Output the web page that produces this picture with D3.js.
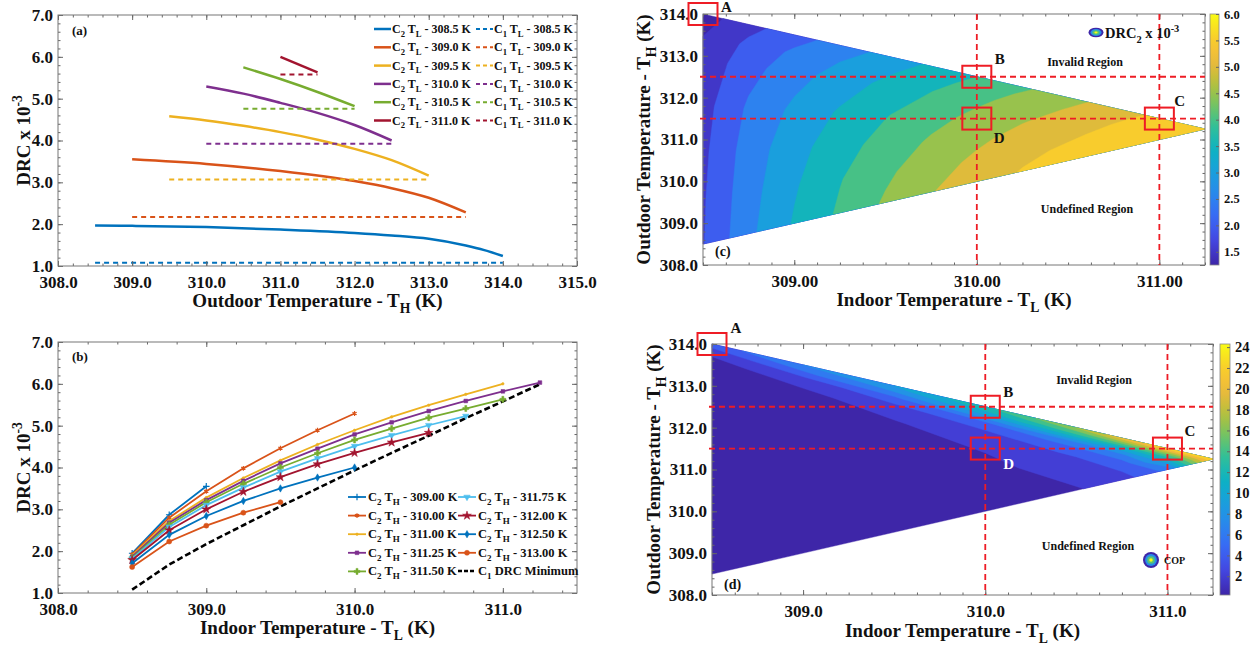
<!DOCTYPE html>
<html lang="en">
<head>
<meta charset="UTF-8" />
<title>DRC and COP maps</title>
<script src="https://d3js.org/d3.v7.min.js"></script>
<style>
  body { margin: 0px; overflow: hidden; background: #ffffff; }
  text { font-family: "Liberation Serif", "Times New Roman", serif; font-weight: bold; fill: #111; }
</style>
</head>
<body>
<svg width="1258" height="645"></svg>
<script>
// ---- (a) DRC2 (x10^-3) vs outdoor temperature TH, one curve per indoor TL
var tlLevels = [308.5, 309.0, 309.5, 310.0, 310.5, 311.0];
var c2VsTH = [
  [[308.5, 1.97], [309, 1.96], [310, 1.93], [311, 1.87], [312, 1.79], [312.5, 1.73], [313, 1.65], [313.5, 1.49], [313.75, 1.38], [314, 1.24]],
  [[309, 3.55], [310, 3.44], [311, 3.27], [312, 3.03], [312.5, 2.86], [313, 2.63], [313.5, 2.28]],
  [[309.5, 4.58], [310, 4.48], [310.5, 4.35], [311, 4.2], [311.5, 4.02], [312, 3.8], [312.5, 3.53], [313, 3.16]],
  [[310, 5.29], [310.5, 5.12], [311, 4.9], [311.5, 4.66], [312, 4.37], [312.5, 4.0]],
  [[310.5, 5.75], [311, 5.47], [311.5, 5.16], [312, 4.82]],
  [[311, 6.0], [311.5, 5.63]]
];
var c1VsTL = [1.08, 2.17, 3.07, 3.92, 4.76, 5.58];

// ---- (b) DRC2 vs indoor temperature TL, one curve per outdoor TH
var thLevels = [309.00, 310.00, 311.00, 311.25, 311.50, 311.75, 312.00, 312.50, 313.00];
var tlSteps = [308.5, 308.75, 309.0, 309.25, 309.5, 309.75, 310.0, 310.25, 310.5, 310.75, 311.0, 311.25];
var c2VsTL = [
  [1.95, 2.87, 3.55],
  [1.92, 2.80, 3.43, 3.98, 4.46, 4.89, 5.29],
  [1.90, 2.72, 3.28, 3.75, 4.17, 4.55, 4.89, 5.21, 5.49, 5.75, 6.00],
  [1.87, 2.68, 3.22, 3.68, 4.10, 4.45, 4.79, 5.08, 5.35, 5.59, 5.82, 6.03],
  [1.84, 2.63, 3.17, 3.61, 4.00, 4.34, 4.66, 4.93, 5.19, 5.41, 5.63],
  [1.82, 2.58, 3.10, 3.52, 3.90, 4.22, 4.51, 4.77, 5.01, 5.23],
  [1.79, 2.50, 3.00, 3.42, 3.77, 4.08, 4.35, 4.60, 4.83],
  [1.71, 2.39, 2.84, 3.20, 3.50, 3.76, 4.00],
  [1.62, 2.23, 2.61, 2.92, 3.17]
];
var c1Minimum = [1.08, 1.68, 2.17, 2.62, 3.07, 3.50, 3.93, 4.35, 4.76, 5.18, 5.58, 5.99];

// ---- valid operating region (TL, TH)
var upperEdge = [[308.5, 314.0], [311.25, 311.25]];
var lowerEdge = [[308.5, 308.5], [311.25, 311.25]];

// ---- (c) DRC2 field: columns = TL, rows = fraction of the TH span from lower to upper edge
var gridTL = [308.5, 308.75, 309, 309.25, 309.5, 309.75, 310, 310.25, 310.5, 310.75, 311, 311.25];
var gridFrac = [0, 0.2, 0.4, 0.6, 0.8, 0.9, 1];
var drcGrid = [
  [1.97, 1.945, 1.89, 1.81, 1.64, 1.51, 1.25],
  [2.88, 2.81, 2.73, 2.58, 2.31, 2.12, 1.82],
  [3.55, 3.44, 3.31, 3.11, 2.80, 2.60, 2.28],
  [4.08, 3.97, 3.79, 3.56, 3.22, 3.00, 2.72],
  [4.57, 4.40, 4.20, 3.96, 3.62, 3.40, 3.15],
  [4.97, 4.80, 4.57, 4.32, 3.99, 3.79, 3.58],
  [5.28, 5.10, 4.90, 4.65, 4.36, 4.19, 4.00],
  [5.53, 5.38, 5.18, 4.96, 4.71, 4.57, 4.41],
  [5.75, 5.58, 5.40, 5.22, 5.04, 4.93, 4.82],
  [5.90, 5.78, 5.66, 5.52, 5.38, 5.31, 5.23],
  [6.00, 5.93, 5.86, 5.78, 5.71, 5.67, 5.63],
  [6.03, 6.03, 6.03, 6.03, 6.03, 6.03, 6.03]
];
var drcLevels = [1.5, 2.0, 2.5, 3.0, 3.5, 4.0, 4.5, 5.0, 5.5];
var drcRange = [1.25, 6.0];
var drcTicks = [1.5, 2.0, 2.5, 3.0, 3.5, 4.0, 4.5, 5.0, 5.5, 6.0];

// ---- (d) COP field on the same kind of grid
var copTL = [308.5, 309, 309.5, 310, 310.5, 310.75, 311, 311.25];
var copFrac = [0, 0.4, 0.6, 0.75, 0.85, 0.92, 0.96, 0.985, 1];
var copGrid = [
  [0.25, 0.35, 0.5, 0.7, 1.0, 1.5, 2.3, 4.2, 5.0],
  [0.25, 0.38, 0.57, 0.91, 1.51, 2.83, 5.6, 7.0, 8.0],
  [0.45, 0.75, 1.13, 1.8, 3.0, 5.6, 8.0, 9.5, 10.0],
  [0.86, 1.43, 2.15, 3.44, 5.7, 10.0, 12.0, 13.0, 13.5],
  [1.81, 3.0, 4.5, 7.2, 12.0, 15.0, 16.5, 17.5, 18.0],
  [3.0, 5.0, 7.5, 11.0, 15.0, 18.0, 19.5, 20.5, 21.0],
  [6.6, 11.0, 14.0, 17.0, 19.5, 21.0, 22.0, 22.5, 23.0],
  [24.0, 24.0, 24.0, 24.0, 24.0, 24.0, 24.0, 24.0, 24.0]
];
var copLevels = [2, 4, 6, 8, 10, 12, 14, 16, 18, 20, 22];
var copRange = [0.2, 24.3];
var copTicks = [2, 4, 6, 8, 10, 12, 14, 16, 18, 20, 22, 24];

// ---- reference points and guide lines of (c) and (d)
var refPoints = [
  { name: "A", tl: 308.5, th: 314.0 },
  { name: "B", tl: 310.0, th: 312.5 },
  { name: "C", tl: 311.0, th: 311.5 },
  { name: "D", tl: 310.0, th: 311.5 }
];
var guideTL = [310.0, 311.0];
var guideTH = [312.5, 311.5];

var svg = d3.select("svg");
var matlab = ["#0072BD", "#D95319", "#EDB120", "#7E2F8E", "#77AC30", "#4DBEEE", "#A2142F"];
var colorsA = [matlab[0], matlab[1], matlab[2], matlab[3], matlab[4], matlab[6]];

// parula-like colour ramp
var parulaStops = ["#3e26a8", "#4443df", "#3a66f5", "#2b85ee", "#1b9ede", "#0cb1c4",
  "#2dbf9b", "#73c462", "#b9c03a", "#f0b93c", "#f9cf2a", "#f9fb14"];
var parula = d3.scaleLinear()
  .domain(parulaStops.map(function (d, i) { return i / (parulaStops.length - 1); }))
  .range(parulaStops).clamp(true);

var upperTH = d3.scaleLinear().domain(upperEdge.map(function (d) { return d[0]; })).range(upperEdge.map(function (d) { return d[1]; }));
var lowerTH = d3.scaleLinear().domain(lowerEdge.map(function (d) { return d[0]; })).range(lowerEdge.map(function (d) { return d[1]; }));

function rich(t, parts, size) {
  var shift = 0;
  parts.forEach(function (p) {
    var target = p[1] === "sub" ? size * 0.32 : p[1] === "sup" ? -size * 0.4 : 0;
    t.append("tspan").text(p[0]).attr("dy", target - shift)
      .attr("font-size", p[1] ? size * 0.72 : size);
    shift = target;
  });
  return t;
}

function styleAxis(sel, fs) {
  sel.select(".domain").remove();
  sel.attr("font-family", null).attr("font-size", null);
  sel.selectAll("line").attr("stroke", "#666");
  sel.selectAll("text").attr("font-size", fs).attr("fill", "#111");
}

function axes(g, x, y, o) {
  var L = x.range()[0], R = x.range()[1], B = y.range()[0], T = y.range()[1];
  var fs = o.fs || 17;
  g.append("g").attr("transform", "translate(0," + B + ")")
    .call(d3.axisBottom(x).tickValues(o.xTicks).tickFormat(d3.format(o.xFmt)).tickSizeInner(-5).tickSizeOuter(0).tickPadding(10))
    .call(styleAxis, fs);
  g.append("g").attr("transform", "translate(0," + B + ")")
    .call(d3.axisBottom(x).tickValues(o.xMinor).tickFormat("").tickSizeInner(-2.5).tickSizeOuter(0)).call(styleAxis, fs);
  g.append("g").attr("transform", "translate(0," + T + ")")
    .call(d3.axisTop(x).tickValues(o.xTicks).tickFormat("").tickSizeInner(-5).tickSizeOuter(0)).call(styleAxis, fs);
  g.append("g").attr("transform", "translate(0," + T + ")")
    .call(d3.axisTop(x).tickValues(o.xMinor).tickFormat("").tickSizeInner(-2.5).tickSizeOuter(0)).call(styleAxis, fs);
  g.append("g").attr("transform", "translate(" + L + ",0)")
    .call(d3.axisLeft(y).tickValues(o.yTicks).tickFormat(d3.format(o.yFmt)).tickSizeInner(-5).tickSizeOuter(0).tickPadding(5))
    .call(styleAxis, fs);
  g.append("g").attr("transform", "translate(" + L + ",0)")
    .call(d3.axisLeft(y).tickValues(o.yMinor).tickFormat("").tickSizeInner(-2.5).tickSizeOuter(0)).call(styleAxis, fs);
  g.append("g").attr("transform", "translate(" + R + ",0)")
    .call(d3.axisRight(y).tickValues(o.yTicks).tickFormat("").tickSizeInner(-5).tickSizeOuter(0)).call(styleAxis, fs);
  g.append("g").attr("transform", "translate(" + R + ",0)")
    .call(d3.axisRight(y).tickValues(o.yMinor).tickFormat("").tickSizeInner(-2.5).tickSizeOuter(0)).call(styleAxis, fs);
  g.append("rect").attr("x", L).attr("y", T).attr("width", R - L).attr("height", B - T)
    .attr("fill", "none").attr("stroke", "#777").attr("stroke-width", 1);

  rich(g.append("text").attr("x", (L + R) / 2).attr("y", B + o.xTitleDy).attr("text-anchor", "middle"), o.xTitle, 19);
  rich(g.append("text").attr("transform", "translate(" + (L - o.yTitleDx) + "," + (T + B) / 2 + ") rotate(-90)")
    .attr("text-anchor", "middle"), o.yTitle, 19);
}

// ================= panel (a)
var xA = d3.scaleLinear().domain([308, 315]).range([58, 577]);
var yA = d3.scaleLinear().domain([1, 7]).range([266, 15]);
var gA = svg.append("g");
var lineA = d3.line().x(function (d) { return xA(d[0]); }).y(function (d) { return yA(d[1]); }).curve(d3.curveMonotoneX);
tlLevels.forEach(function (tl, k) {
  var ext = d3.extent(c2VsTH[k], function (d) { return d[0]; });
  gA.append("path").attr("d", d3.line()([[xA(ext[0]), yA(c1VsTL[k])], [xA(ext[1]), yA(c1VsTL[k])]]))
    .attr("stroke", colorsA[k]).attr("stroke-width", 2).attr("stroke-dasharray", "5,4").attr("fill", "none");
  gA.append("path").attr("d", lineA(c2VsTH[k])).attr("fill", "none")
    .attr("stroke", colorsA[k]).attr("stroke-width", 2.5);
});
axes(gA, xA, yA, {
  xTicks: d3.range(308, 315.5, 1), xMinor: d3.range(308, 315.01, 0.2), xFmt: ".1f",
  yTicks: d3.range(1, 7.5, 1), yMinor: d3.range(1, 7.01, 0.2), yFmt: ".1f",
  xTitle: [["Outdoor Temperature - T", ""], ["H", "sub"], [" (K)", ""]], xTitleDy: 41,
  yTitle: [["DRC x 10", ""], ["-3", "sup"]], yTitleDx: 28
});
gA.append("text").attr("x", 72).attr("y", 35).attr("font-size", 13).text("(a)");
tlLevels.forEach(function (tl, k) {
  var yy = 29 + k * 18.3;
  gA.append("line").attr("x1", 374).attr("x2", 391).attr("y1", yy).attr("y2", yy)
    .attr("stroke", colorsA[k]).attr("stroke-width", 2.5);
  rich(gA.append("text").attr("x", 392).attr("y", yy + 4),
    [["C", ""], ["2", "sub"], [" T", ""], ["L", "sub"], [" - " + tl.toFixed(1) + " K", ""]], 12);
  gA.append("line").attr("x1", 476).attr("x2", 493).attr("y1", yy).attr("y2", yy)
    .attr("stroke", colorsA[k]).attr("stroke-width", 2).attr("stroke-dasharray", "4,3");
  rich(gA.append("text").attr("x", 494).attr("y", yy + 4),
    [["C", ""], ["1", "sub"], [" T", ""], ["L", "sub"], [" - " + tl.toFixed(1) + " K", ""]], 12);
});

// ================= panel (b)
var xB = d3.scaleLinear().domain([308, 311.5]).range([58, 577]);
var yB = d3.scaleLinear().domain([1, 7]).range([593, 342]);
var gB = svg.append("g");
var markerSpec = [
  { type: d3.symbolPlus || d3.symbolCross, size: 16, stroke: true },
  { type: d3.symbolAsterisk || d3.symbolStar, size: 16, stroke: true },
  { type: d3.symbolCircle, size: 5 },
  { type: d3.symbolSquare, size: 14 },
  { type: d3.symbolCross, size: 20 },
  { type: d3.symbolTriangle, size: 18, rotate: 180 },
  { type: d3.symbolStar, size: 24 },
  { type: d3.symbolDiamond, size: 16 },
  { type: d3.symbolCircle, size: 20 }
];
function marker(g, k, px, py) {
  var m = markerSpec[k], col = matlab[k % 7];
  g.append("path").attr("d", d3.symbol().type(m.type).size(m.size)())
    .attr("transform", "translate(" + px + "," + py + ")" + (m.rotate ? " rotate(" + m.rotate + ")" : ""))
    .attr("fill", m.stroke ? "none" : col).attr("stroke", col).attr("stroke-width", m.stroke ? 1.2 : 0.5);
}
var lineB = d3.line().x(function (d) { return xB(d[0]); }).y(function (d) { return yB(d[1]); });
gB.append("path").attr("d", lineB(c1Minimum.map(function (v, i) { return [tlSteps[i], v]; })))
  .attr("fill", "none").attr("stroke", "#000").attr("stroke-width", 2.6).attr("stroke-dasharray", "6,3");
thLevels.forEach(function (th, k) {
  var pts = c2VsTL[k].map(function (v, i) { return [tlSteps[i], v]; });
  gB.append("path").attr("d", lineB(pts)).attr("fill", "none")
    .attr("stroke", matlab[k % 7]).attr("stroke-width", 1.8);
  pts.forEach(function (p) { marker(gB, k, xB(p[0]), yB(p[1])); });
});
axes(gB, xB, yB, {
  xTicks: d3.range(308, 311.5, 1), xMinor: d3.range(308, 311.51, 0.2), xFmt: ".1f",
  yTicks: d3.range(1, 7.5, 1), yMinor: d3.range(1, 7.01, 0.2), yFmt: ".1f",
  xTitle: [["Indoor Temperature - T", ""], ["L", "sub"], [" (K)", ""]], xTitleDy: 41,
  yTitle: [["DRC x 10", ""], ["-3", "sup"]], yTitleDx: 28
});
gB.append("text").attr("x", 72).attr("y", 361).attr("font-size", 13).text("(b)");
thLevels.forEach(function (th, k) {
  var col = k < 5 ? 0 : 1, row = k % 5;
  var x0 = col ? 458 : 348, yy = 497 + row * 18.6;
  gB.append("line").attr("x1", x0).attr("x2", x0 + 18).attr("y1", yy).attr("y2", yy)
    .attr("stroke", matlab[k % 7]).attr("stroke-width", 1.8);
  marker(gB, k, x0 + 9, yy);
  rich(gB.append("text").attr("x", x0 + 20).attr("y", yy + 4),
    [["C", ""], ["2", "sub"], [" T", ""], ["H", "sub"], [" - " + th.toFixed(2) + " K", ""]], 12.5);
});
gB.append("line").attr("x1", 458).attr("x2", 476).attr("y1", 571).attr("y2", 571)
  .attr("stroke", "#000").attr("stroke-width", 2.5).attr("stroke-dasharray", "4,2");
rich(gB.append("text").attr("x", 478).attr("y", 575),
  [["C", ""], ["1", "sub"], [" DRC Minimum", ""]], 12.5);

// ================= contour maps
function toData(gx, gy, tls, fracs) {
  function along(arr, g) {
    var t = Math.max(0, Math.min(arr.length - 1, g - 0.5));
    var i = Math.min(Math.floor(t), arr.length - 2);
    return arr[i] + (t - i) * (arr[i + 1] - arr[i]);
  }
  var tl = along(tls, gx), f = along(fracs, gy);
  var lo = lowerTH(tl), hi = upperTH(tl);
  return [tl, lo + f * (hi - lo)];
}

function drawField(g, x, y, tls, fracs, grid, levels, color, base) {
  var n = tls.length, m = fracs.length, values = [];
  for (var j = 0; j < m; j++) for (var i = 0; i < n; i++) values.push(grid[i][j]);
  var proj = d3.geoTransform({
    point: function (gx, gy) { var p = toData(gx, gy, tls, fracs); this.stream.point(x(p[0]), y(p[1])); }
  });
  var path = d3.geoPath(proj);
  g.append("path").attr("d", path({ type: "Polygon", coordinates: [[[0, 0], [n, 0], [n, m], [0, m], [0, 0]]] }))
    .attr("fill", color(base)).attr("stroke", color(base)).attr("stroke-width", 0.4);
  d3.contours().size([n, m]).thresholds(levels)(values).forEach(function (c) {
    g.append("path").attr("d", path(c)).attr("fill", color(c.value))
      .attr("stroke", color(c.value)).attr("stroke-width", 0.4);
  });
}

function colorbar(g, x0, w, y, ticks, fmt, fs, id) {
  var grad = svg.append("defs").append("linearGradient").attr("id", id)
    .attr("x1", 0).attr("x2", 0).attr("y1", 1).attr("y2", 0);
  d3.range(0, 1.001, 0.05).forEach(function (t) {
    grad.append("stop").attr("offset", t).attr("stop-color", parula(t));
  });
  g.append("rect").attr("x", x0).attr("y", y.range()[1]).attr("width", w)
    .attr("height", y.range()[0] - y.range()[1]).attr("fill", "url(#" + id + ")")
    .attr("stroke", "#888").attr("stroke-width", 0.8);
  var ax = g.append("g").attr("transform", "translate(" + (x0 + w) + ",0)")
    .call(d3.axisRight(y).tickValues(ticks).tickFormat(d3.format(fmt)).tickSizeInner(-3).tickSizeOuter(0).tickPadding(5));
  styleAxis(ax, fs);
}

function refMarks(g, x, y, offs, dColor) {
  guideTL.forEach(function (tl) {
    g.append("line").attr("x1", x(tl)).attr("x2", x(tl)).attr("y1", y.range()[1]).attr("y2", y.range()[0])
      .attr("stroke", "#ee1c25").attr("stroke-width", 1.8).attr("stroke-dasharray", "6,4");
  });
  guideTH.forEach(function (th) {
    g.append("line").attr("x1", x.range()[0] - 3).attr("x2", x.range()[1]).attr("y1", y(th)).attr("y2", y(th))
      .attr("stroke", "#ee1c25").attr("stroke-width", 1.8).attr("stroke-dasharray", "6,4");
  });
  refPoints.forEach(function (p, k) {
    var cx = x(p.tl), cy = y(p.th);
    g.append("rect").attr("x", cx - 14.5).attr("y", cy - 11).attr("width", 29).attr("height", 22)
      .attr("fill", "none").attr("stroke", "#ee1c25").attr("stroke-width", 2);
    g.append("text").attr("x", cx + offs[k][0]).attr("y", cy + offs[k][1]).attr("font-size", 15)
      .style("fill", p.name === "D" ? dColor : "#111").text(p.name);
  });
}

function icon(g, cx, cy, rx, ry) {
  [0, 0.3, 0.6, 1].forEach(function (t, i) {
    var s = 1 - i * 0.26;
    g.append("ellipse").attr("cx", cx).attr("cy", cy).attr("rx", rx * s).attr("ry", ry * s).attr("fill", parula(t));
  });
}

// ================= panel (c)
var xC = d3.scaleLinear().domain([308.5, 311.25]).range([703, 1205]);
var yC = d3.scaleLinear().domain([308, 314]).range([265, 14]);
var gC = svg.append("g");
var colC = function (v) { return parula((v - drcRange[0]) / (drcRange[1] - drcRange[0])); };
drawField(gC, xC, yC, gridTL, gridFrac, drcGrid, drcLevels, colC, drcRange[0]);
axes(gC, xC, yC, {
  xTicks: [309, 310, 311], xMinor: d3.range(308.5, 311.26, 0.125), xFmt: ".2f",
  yTicks: d3.range(308, 314.5, 1), yMinor: d3.range(308, 314.01, 0.2), yFmt: ".1f",
  xTitle: [["Indoor Temperature - T", ""], ["L", "sub"], [" (K)", ""]], xTitleDy: 41,
  yTitle: [["Outdoor Temperature - T", ""], ["H", "sub"], [" (K)", ""]], yTitleDx: 53
});
colorbar(gC, 1210, 9, d3.scaleLinear().domain(drcRange).range([265, 14]), drcTicks, ".1f", 12.5, "gradC");
refMarks(gC, xC, yC, [[18, -2], [18, -13], [15, -12.5], [17, 24]], "#111");
icon(gC, 1096, 32.5, 7.5, 4.8);
rich(gC.append("text").attr("x", 1105).attr("y", 38), [["DRC", ""], ["2", "sub"], [" x 10", ""], ["-3", "sup"]], 14.5);
gC.append("text").attr("x", 1085).attr("y", 66).attr("text-anchor", "middle").attr("font-size", 12).text("Invalid Region");
gC.append("text").attr("x", 1087).attr("y", 213).attr("text-anchor", "middle").attr("font-size", 12).text("Undefined Region");
gC.append("text").attr("x", 715).attr("y", 256).attr("font-size", 14).text("(c)");

// ================= panel (d)
var xD = d3.scaleLinear().domain([308.5, 311.25]).range([712, 1213]);
var yD = d3.scaleLinear().domain([308, 314]).range([595, 344]);
var gD = svg.append("g");
var colD = function (v) { return parula((v - copRange[0]) / (copRange[1] - copRange[0])); };
drawField(gD, xD, yD, copTL, copFrac, copGrid, copLevels, colD, copRange[0]);
axes(gD, xD, yD, {
  xTicks: [309, 310, 311], xMinor: d3.range(308.5, 311.26, 0.125), xFmt: ".1f",
  yTicks: d3.range(308, 314.5, 1), yMinor: d3.range(308, 314.01, 0.2), yFmt: ".1f",
  xTitle: [["Indoor Temperature - T", ""], ["L", "sub"], [" (K)", ""]], xTitleDy: 42,
  yTitle: [["Outdoor Temperature - T", ""], ["H", "sub"], [" (K)", ""]], yTitleDx: 52
});
colorbar(gD, 1220, 10, d3.scaleLinear().domain(copRange).range([595, 344]), copTicks, "d", 14.5, "gradD");
refMarks(gD, xD, yD, [[18.5, -11], [18, -10], [17, -13], [18, 20]], "#ffffff");
icon(gD, 1151, 560, 8, 8);
gD.append("text").attr("x", 1164).attr("y", 564).attr("font-size", 10).text("COP");
gD.append("text").attr("x", 1094).attr("y", 384).attr("text-anchor", "middle").attr("font-size", 12).text("Invalid Region");
gD.append("text").attr("x", 1088).attr("y", 550).attr("text-anchor", "middle").attr("font-size", 12).text("Undefined Region");
gD.append("text").attr("x", 724).attr("y", 589).attr("font-size", 14).text("(d)");
</script>
</body>
</html>
